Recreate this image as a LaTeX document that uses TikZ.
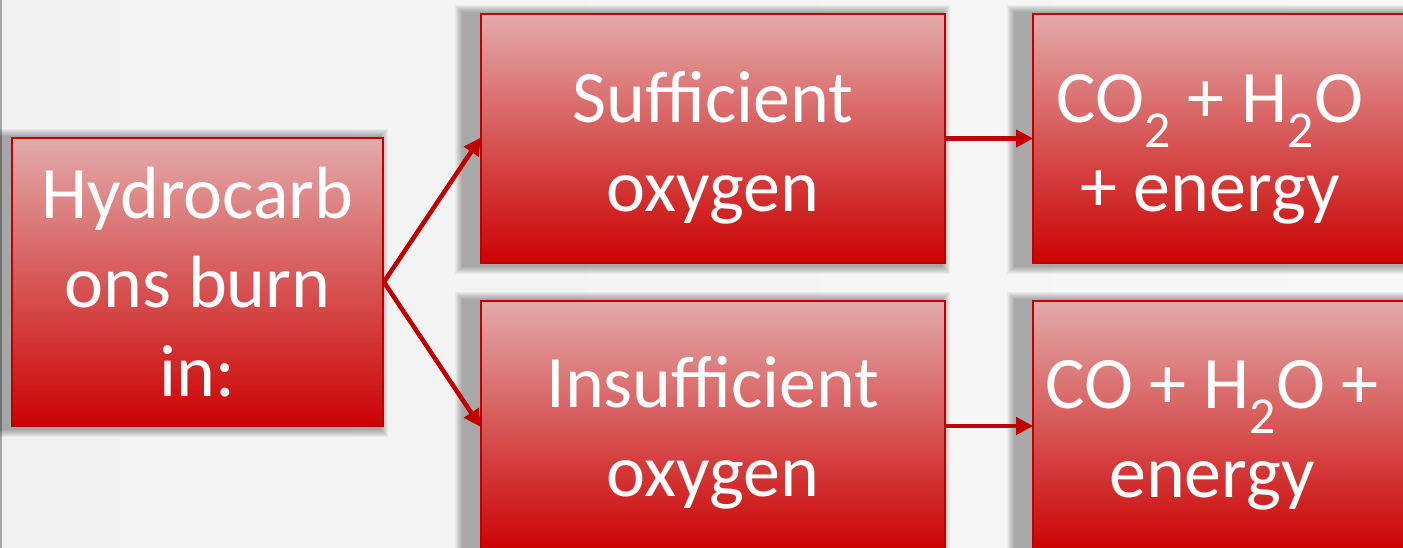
\documentclass[tikz,border=0pt]{standalone}
\usepackage{fontspec}
\setmainfont{Carlito}
\usetikzlibrary{arrows.meta,backgrounds,calc}
\definecolor{bgcol}{HTML}{F2F2F2}
\definecolor{bgcolr}{HTML}{F8F8F8}
\definecolor{boxtop}{HTML}{E3AAAA}
\definecolor{boxbot}{HTML}{CC0202}
\definecolor{boxline}{HTML}{C00000}
\definecolor{arrowcol}{HTML}{C00000}
\begin{document}
\begin{tikzpicture}[x=1pt,y=-1pt,
  stepbox/.style={draw=boxline, line width=1.8pt, top color=boxtop, bottom color=boxbot, inner sep=0pt},
  boxtext/.style={text=white, align=center, inner sep=0pt, font=\fontsize{74}{89}\selectfont},
  shadowlayer/.style={fill=black, opacity=0.044},
  flow/.style={draw=arrowcol, line width=4.5pt, -{Triangle[length=17pt,width=17pt]}, shorten >=-1pt}]
\useasboundingbox (0,0) rectangle (1403,548);
\clip (0,0) rectangle (1403,548);

\node[stepbox, minimum width=371pt, minimum height=288pt] (hc) at (197.5,282) {};
\node[stepbox, minimum width=464pt, minimum height=249pt] (so) at (713,138.5) {};
\node[stepbox, minimum width=464pt, minimum height=250pt] (io) at (713,426) {};
\node[stepbox, minimum width=464pt, minimum height=249pt] (rt) at (1265,138.5) {};
\node[stepbox, minimum width=464pt, minimum height=250pt] (rb) at (1265,426) {};

\node[boxtext] (hct) at (197.5,282) {Hydrocarb\\ons burn\\in:};
\node[boxtext] (sot) at (713,147.5) {Sufficient\\oxygen};
\node[boxtext] (iot) at (713,433) {Insufficient\\oxygen};
\node[boxtext] (rtt) at (1210,149) {CO\textsubscript{2} + H\textsubscript{2}O\\+ energy};
\node[boxtext] (rbt) at (1212,435) {CO + H\textsubscript{2}O +\\energy};

\begin{scope}[on background layer]
  \shade[left color=bgcol, right color=bgcolr] (0,0) rectangle (1403,548);
  \fill[gray!70] (0,0) rectangle (1.5,548);
  \fill[gray!12] (1.5,0) rectangle (8,548);
  \foreach \b in {hc,so,io,rt,rb}{
    \foreach \k in {0,...,7}{
      \fill[shadowlayer] ($(\b.north west)+(-25+\k,-8+\k)$) rectangle ($(\b.south east)+(4-\k,10-\k)$);
    }
  }
\end{scope}

\draw[flow] (hc.east) -- (so.west);
\draw[flow] (hc.east) -- (io.west);
\draw[flow] (so.east) -- (rt.west);
\draw[flow] (io.east) -- (rb.west);
\end{tikzpicture}
\end{document}
